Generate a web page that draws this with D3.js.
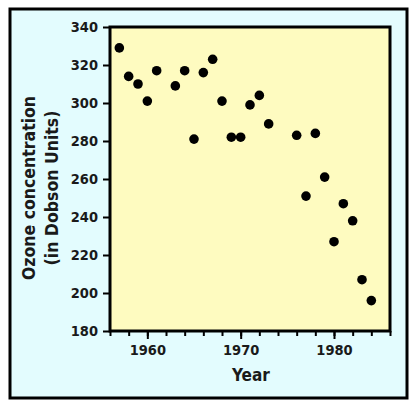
<!DOCTYPE html>
<html>
<head>
<meta charset="utf-8">
<script src="https://cdn.jsdelivr.net/npm/d3@7"></script>
<style>
  body { margin: 0; background: #fff; }
  svg { display: block; font-family: "DejaVu Sans Condensed", "DejaVu Sans", sans-serif; }
</style>
</head>
<body>
<svg id="chart" width="420" height="410"></svg>
<script>
// ozone readings, one per year
var years = [1957, 1958, 1959, 1960, 1961, 1963, 1964, 1965, 1966, 1967, 1968, 1969, 1970,
             1971, 1972, 1973, 1976, 1977, 1978, 1979, 1980, 1981, 1982, 1983, 1984];
var ozone = [329, 314, 310, 301, 317, 309, 317, 281, 316, 323, 301, 282, 282,
             299, 304, 289, 283, 251, 284, 261, 227, 247, 238, 207, 196];
var xTickLabels = [1960, 1970, 1980];
var yTickLabels = [180, 200, 220, 240, 260, 280, 300, 320, 340];

var svg = d3.select("#chart");
var margin = {left: 110, top: 27, right: 30, bottom: 79};
var w = 420 - margin.left - margin.right,
    h = 410 - margin.top - margin.bottom;
var fontFam = "DejaVu Sans Condensed";

// outer frame
svg.append("rect")
    .attr("x", 10).attr("y", 9)
    .attr("width", 397).attr("height", 389)
    .attr("fill", "#e3fcfe")
    .attr("stroke", "#000")
    .attr("stroke-width", 3);

var g = svg.append("g").attr("transform", "translate(" + margin.left + "," + margin.top + ")");

var x = d3.scaleLinear().domain([1956, 1986]).range([0, w]);
var y = d3.scaleLinear().domain([180, 340]).range([h, 0]);

g.append("rect")
    .attr("width", w).attr("height", h)
    .attr("fill", "#fefbc0")
    .attr("stroke", "#000")
    .attr("stroke-width", 3);

// x axis: minor ticks every 2 years, labels every 10
var xMinor = d3.range(1956, 1987, 2);
g.append("g")
    .attr("transform", "translate(0," + h + ")")
    .call(d3.axisBottom(x).tickValues(xMinor).tickSize(5).tickFormat(""))
    .call(a => a.select(".domain").remove())
    .call(a => a.selectAll("line").attr("stroke-width", 2));

var xAxis = g.append("g")
    .attr("transform", "translate(0," + h + ")")
    .call(d3.axisBottom(x).tickValues(xTickLabels).tickSize(8).tickPadding(6).tickFormat(d3.format("d")));
xAxis.select(".domain").remove();
xAxis.selectAll("line").attr("stroke-width", 2);
xAxis.selectAll("text")
    .attr("font-size", 14.5).attr("font-weight", "bold")
    .attr("font-family", fontFam).attr("fill", "#1a1a1a");

var yAxis = g.append("g")
    .call(d3.axisLeft(y).tickValues(yTickLabels).tickSize(7).tickPadding(5));
yAxis.select(".domain").remove();
yAxis.selectAll("line").attr("stroke-width", 2);
yAxis.selectAll("text")
    .attr("font-size", 14.5).attr("font-weight", "bold")
    .attr("font-family", fontFam).attr("fill", "#1a1a1a");

// points
g.selectAll("circle.pt")
    .data(years)
    .enter().append("circle")
    .attr("class", "pt")
    .attr("cx", function (d) { return x(d); })
    .attr("cy", function (d, i) { return y(ozone[i]); })
    .attr("r", 4.8)
    .attr("fill", "#000");

// axis titles
svg.append("text")
    .attr("x", 251).attr("y", 381)
    .attr("text-anchor", "middle")
    .attr("font-size", 17).attr("font-weight", "bold")
    .attr("fill", "#1a1a1a")
    .text("Year");

var yt = svg.append("text")
    .attr("transform", "translate(35,188) rotate(-90)")
    .attr("text-anchor", "middle")
    .attr("font-size", 17.5).attr("font-weight", "bold")
    .attr("fill", "#1a1a1a");
yt.append("tspan").attr("x", 0).attr("dy", 0).text("Ozone concentration");
yt.append("tspan").attr("x", 0).attr("dy", 23).text("(in Dobson Units)");
</script>
</body>
</html>
